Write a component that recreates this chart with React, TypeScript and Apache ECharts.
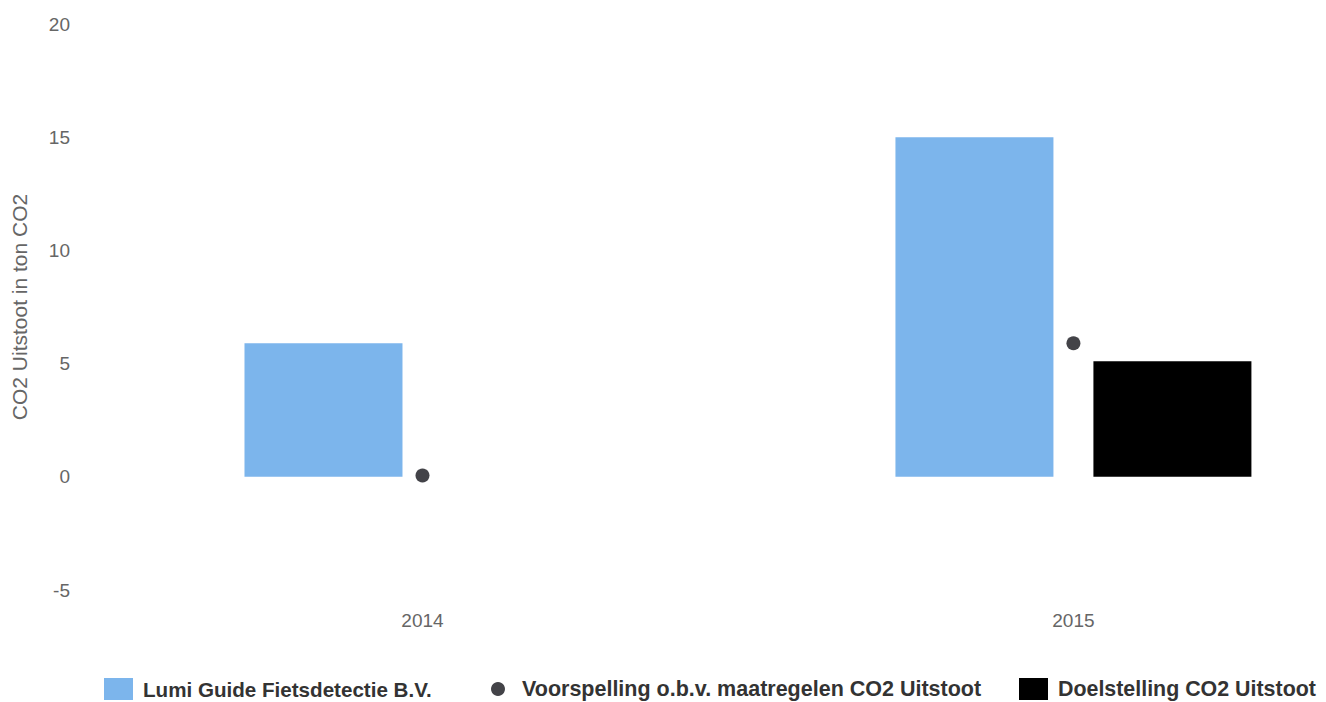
import React, { useEffect, useRef } from "react";
import * as echarts from "echarts";

const years = [2014, 2015];
const lumiGuide = [5.9, 15];
const voorspelling = [0.06, 5.9];
const doelstelling: (number | null)[] = [null, 5.1];
const yTicks = { min: -5, max: 20, interval: 5 };

const SERIES_NAMES = [
  "Lumi Guide Fietsdetectie B.V.",
  "Voorspelling o.b.v. maatregelen CO2 Uitstoot",
  "Doelstelling CO2 Uitstoot",
];

const FONT = '"Liberation Sans", Arial, Helvetica, sans-serif';

const pairs = (vals: (number | null)[]) =>
  years.map((y, i) => (vals[i] == null ? [y, "-"] : [y, vals[i]]));

export default function App() {
  const ref = useRef<HTMLDivElement>(null);
  useEffect(() => {
    if (!ref.current) return;
    const chart = echarts.init(ref.current, null, { renderer: "svg" });
    const legendText = {
      fontFamily: FONT,
      fontWeight: "bold" as const,
      color: "#333333",
    };
    chart.setOption({
      animation: false,
      textStyle: { fontFamily: FONT },
      grid: { left: 97, right: 0, top: 24, bottom: 112 },
      legend: [
        {
          data: [SERIES_NAMES[0]],
          left: 104,
          top: 678,
          padding: 0,
          itemWidth: 29,
          itemHeight: 22,
          icon: "rect",
          textStyle: { ...legendText, fontSize: 20.6, padding: [0, 0, 0, 5] },
        },
        {
          data: [SERIES_NAMES[1]],
          left: 491,
          top: 678,
          padding: 0,
          itemWidth: 14,
          itemHeight: 22,
          icon: "circle",
          symbolKeepAspect: true,
          itemStyle: { opacity: 1 },
          textStyle: { ...legendText, fontSize: 21.5, padding: [0, 0, 0, 12] },
        },
        {
          data: [SERIES_NAMES[2]],
          left: 1019,
          top: 678,
          padding: 0,
          itemWidth: 29,
          itemHeight: 22,
          icon: "rect",
          textStyle: { ...legendText, fontSize: 21.4, padding: [0, 0, 0, 5] },
        },
      ],
      xAxis: {
        type: "value",
        min: 2013.5,
        max: 2015.388,
        axisLine: { show: false, onZero: false },
        axisTick: { show: false },
        splitLine: { show: false },
        axisLabel: {
          color: "#666666",
          fontSize: 19,
          margin: 21,
          fontFamily: FONT,
          customValues: years,
          formatter: (v: number) => String(v),
        },
      },
      yAxis: {
        type: "value",
        min: yTicks.min,
        max: yTicks.max,
        interval: yTicks.interval,
        name: "CO2 Uitstoot in ton CO2",
        nameLocation: "middle",
        nameGap: 67,
        nameTextStyle: { color: "#666666", fontSize: 21, fontFamily: FONT },
        axisLine: { show: false },
        axisTick: { show: false },
        splitLine: { show: false },
        axisLabel: { color: "#666666", fontSize: 19, margin: 27, fontFamily: FONT },
      },
      series: [
        {
          name: SERIES_NAMES[0],
          type: "bar",
          data: pairs(lumiGuide),
          barWidth: 158,
          barGap: "25.3%",
          itemStyle: { color: "#7cb5ec" },
        },
        {
          name: SERIES_NAMES[1],
          type: "scatter",
          data: pairs(voorspelling),
          symbol: "circle",
          symbolSize: 14,
          itemStyle: { color: "#434348", opacity: 1 },
        },
        {
          name: SERIES_NAMES[2],
          type: "bar",
          data: pairs(doelstelling),
          barWidth: 158,
          barGap: "25.3%",
          itemStyle: { color: "#000000" },
        },
      ],
    });
    return () => chart.dispose();
  }, []);
  return (
    <div
      ref={ref}
      style={{ position: "fixed", left: 0, top: 0, width: 1326, height: 702, background: "#ffffff" }}
    />
  );
}
